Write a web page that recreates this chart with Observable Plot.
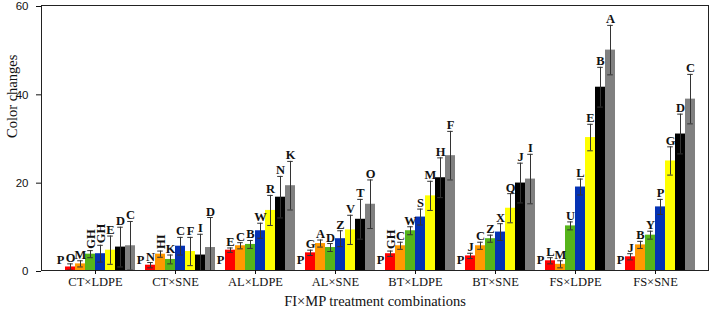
<!DOCTYPE html>
<html>
<head>
<meta charset="utf-8">
<script src="https://cdn.jsdelivr.net/npm/d3@7"></script>
<script src="https://cdn.jsdelivr.net/npm/@observablehq/plot@0.6"></script>
<style>
  body { margin: 0; background: #fff; }
  svg { display: block; }
</style>
</head>
<body>
<div id="chart"></div>
<script>
// FI×MP treatment combinations
const groups = ["CT×LDPE", "CT×SNE", "AL×LDPE", "AL×SNE", "BT×LDPE", "BT×SNE", "FS×LDPE", "FS×SNE"];

// seven levels shown within every combination
const levels = ["L1", "L2", "L3", "L4", "L5", "L6", "L7"];
const levelColors = ["#ff0000", "#ff9900", "#56b41a", "#0532b4", "#ffff00", "#000000", "#808080"];

// mean colour change per level, one value per combination
const meanL1 = [0.8, 1.2, 4.6, 4.0, 3.8, 3.3, 2.2, 3.1];
const meanL2 = [1.5, 3.7, 5.6, 6.1, 5.6, 5.6, 1.4, 5.8];
const meanL3 = [3.7, 2.5, 5.9, 5.2, 9.0, 7.2, 10.1, 8.0];
const meanL4 = [3.8, 5.5, 9.0, 7.2, 12.1, 8.7, 18.9, 14.4];
const meanL5 = [4.6, 4.3, 13.6, 9.2, 16.9, 14.1, 30.1, 24.8];
const meanL6 = [5.3, 3.5, 16.6, 11.6, 21.0, 19.8, 41.5, 30.9];
const meanL7 = [5.6, 5.2, 19.2, 15.0, 26.0, 20.7, 49.9, 38.8];

// error bar half-lengths
const errL1 = [0.7, 0.6, 0.5, 0.6, 0.6, 0.6, 0.7, 0.7];
const errL2 = [0.7, 0.7, 0.7, 0.8, 0.8, 0.8, 0.8, 0.8];
const errL3 = [0.8, 1.0, 0.9, 0.9, 0.9, 0.8, 0.9, 0.9];
const errL4 = [1.9, 2.0, 1.7, 1.8, 1.8, 1.9, 1.8, 1.7];
const errL5 = [3.2, 3.2, 3.4, 3.3, 3.3, 3.3, 3.0, 3.2];
const errL6 = [4.5, 4.7, 4.7, 4.5, 4.5, 4.5, 4.5, 4.5];
const errL7 = [5.5, 6.8, 5.5, 5.5, 5.5, 5.6, 5.6, 5.6];

// significance letters
const letL1 = ["O", "N", "E", "G", "GH", "J", "L", "J"];
const letL2 = ["M", "HI", "C", "A", "C", "C", "M", "B"];
const letL3 = ["GH", "K", "B", "D", "W", "Z", "U", "Y"];
const letL4 = ["GH", "C", "W", "Z", "S", "X", "L", "P"];
const letL5 = ["E", "F", "R", "V", "M", "Q", "E", "G"];
const letL6 = ["D", "I", "N", "T", "H", "J", "B", "D"];
const letL7 = ["C", "D", "K", "O", "F", "I", "A", "C"];

const groupLetter = "P";

const means = [meanL1, meanL2, meanL3, meanL4, meanL5, meanL6, meanL7];
const errs = [errL1, errL2, errL3, errL4, errL5, errL6, errL7];
const lets = [letL1, letL2, letL3, letL4, letL5, letL6, letL7];

const rows = [];
groups.forEach((g, gi) => levels.forEach((l, li) => rows.push({
  group: g, level: l, key: `${g}|${l}`,
  mean: means[li][gi], err: errs[li][gi], letter: lets[li][gi]
})));

// one spacer slot before each combination, then its seven bars
const xDomain = groups.flatMap(g => [`${g}|gap`, ...levels.map(l => `${g}|${l}`)]);
const tickKeys = groups.map(g => `${g}|${levels[2]}`);

const serif = "Liberation Serif, Times New Roman, serif";
const sans = "Liberation Sans, Arial, sans-serif";
const ink = "#111";
const errInk = "#333";

const plot = Plot.plot({
  width: 709,
  height: 309,
  marginTop: 5,
  marginRight: 1,
  marginBottom: 39,
  marginLeft: 41,
  style: { fontFamily: serif, background: "#fff", color: ink },
  x: { type: "band", domain: xDomain, padding: 0, axis: null },
  y: { domain: [0, 60], axis: null },
  color: { domain: levels, range: levelColors },
  marks: [
    Plot.barY(rows, { x: "key", y: "mean", fill: "level" }),
    Plot.ruleX(rows, {
      x: "key",
      y1: d => Math.max(0, d.mean - d.err),
      y2: d => d.mean + d.err,
      stroke: errInk, strokeWidth: 1
    }),
    Plot.tickY(rows, {
      x: "key", y: d => d.mean + d.err,
      stroke: errInk, strokeWidth: 1, insetLeft: 2.2, insetRight: 2.2
    }),
    Plot.tickY(rows.filter(d => d.mean - d.err > 0), {
      x: "key", y: d => d.mean - d.err,
      stroke: errInk, strokeWidth: 1, insetLeft: 2.2, insetRight: 2.2
    }),
    Plot.text(rows.filter(d => d.letter.length === 1), {
      x: "key", y: d => d.mean + d.err, text: "letter",
      lineAnchor: "bottom", dy: -2,
      fontFamily: serif, fontWeight: "bold", fontSize: 12.5, fill: ink
    }),
    Plot.text(rows.filter(d => d.letter.length > 1), {
      x: "key", y: d => d.mean + d.err, text: "letter",
      rotate: -90, textAnchor: "start", lineAnchor: "middle", dy: -2,
      fontFamily: serif, fontWeight: "bold", fontSize: 12.5, fill: ink
    }),
    Plot.text(groups, {
      x: g => `${g}|gap`, y: 0, text: () => groupLetter,
      lineAnchor: "bottom", dy: -7,
      fontFamily: serif, fontWeight: "bold", fontSize: 12.5, fill: ink
    }),
    Plot.frame({ stroke: "#222" }),
    Plot.axisX({
      ticks: tickKeys, tickFormat: k => k.split("|")[0],
      dx: 5, tickSize: 4, tickPadding: 3, label: null,
      fontFamily: serif, fontSize: 12.5
    }),
    Plot.axisY({
      ticks: [0, 20, 40, 60], tickSize: 5, tickPadding: 8, label: null,
      fontFamily: sans, fontSize: 11.5, dy: 1
    }),
    Plot.text(["FI×MP treatment combinations"], {
      frameAnchor: "bottom", lineAnchor: "bottom", dy: 35, text: d => d,
      fontFamily: serif, fontSize: 14.5, fill: ink
    }),
    Plot.text(["Color changes"], {
      frameAnchor: "left", dx: -29, rotate: -90, text: d => d,
      fontFamily: serif, fontSize: 14.5, fill: ink
    })
  ]
});

document.getElementById("chart").appendChild(plot);
</script>
</body>
</html>
